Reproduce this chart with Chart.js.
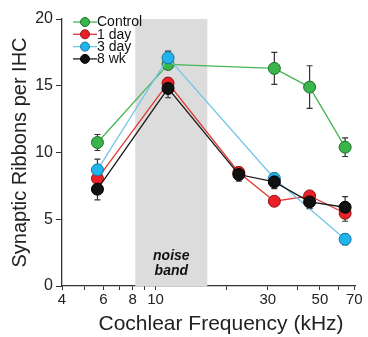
<!DOCTYPE html>
<html>
<head>
<meta charset="utf-8">
<script src="https://cdn.jsdelivr.net/npm/chart.js@4"></script>
<style>
  html, body { margin: 0; padding: 0; background: #fff; }
  #wrap { width: 368px; height: 337px; }
</style>
</head>
<body>
<div id="wrap"><canvas id="chart" width="368" height="337"></canvas></div>
<script>
// frecuencias medidas (kHz)
const frecuencias = [5.66, 11.3, 22.6, 32, 45.2, 64];
const etiquetas = ["Control", "1 day", "3 day", "8 wk"];

// ribbons por IHC (null = sin medida en esa frecuencia)
const control = [10.75, 16.6, null, 16.3, 14.9, 10.4];
const dia1 = [8.05, 15.2, 8.5, 6.35, 6.75, 5.45];
const dia3 = [8.7, 17.1, null, 8.05, null, 3.5];
const sem8 = [7.25, 14.8, 8.35, 7.8, 6.3, 5.9];

// error estandar
const errControl = [0.6, 0.3, null, 1.2, 1.6, 0.7];
const errDia1 = [0.5, 0.4, 0.4, 0.3, 0.3, 0.6];
const errDia3 = [0.8, 0.5, null, 0.4, null, 0.4];
const errSem8 = [0.8, 0.7, 0.5, 0.5, 0.5, 0.8];

const ticksX = [4, 5, 6, 7, 8, 9, 10, 20, 30, 40, 50, 60, 70];
const etiquetasX = [4, 6, 8, 10, 30, 50, 70];
const ticksY = [0, 5, 10, 15, 20];
const banda = [8.2, 16.6];

const FUENTE = "'Liberation Sans', Arial, sans-serif";

function puntos(vals) {
    return frecuencias.map((f, i) => ({ x: f, y: vals[i] }));
}

function serie(label, vals, err, relleno, borde, linea, orden) {
    return {
        label,
        data: puntos(vals),
        errores: err,
        backgroundColor: relleno,
        borderColor: linea,
        pointBorderColor: borde,
        pointBackgroundColor: relleno,
        pointRadius: 6,
        pointBorderWidth: 1,
        borderWidth: 1.3,
        spanGaps: true,
        order: orden,
    };
}

// franja gris del ruido
const bandaRuido = {
    id: "bandaRuido",
    beforeDatasetsDraw(chart) {
        const { ctx, scales } = chart;
        const x1 = scales.x.getPixelForValue(banda[0]);
        const x2 = scales.x.getPixelForValue(banda[1]);
        const y1 = scales.y.getPixelForValue(20);
        const y2 = scales.y.getPixelForValue(0);
        ctx.save();
        ctx.fillStyle = "#dcdcdc";
        ctx.fillRect(x1, y1, x2 - x1, y2 - y1);
        ctx.fillStyle = "#111";
        ctx.font = "italic bold 14px " + FUENTE;
        ctx.textAlign = "center";
        ctx.textBaseline = "middle";
        const xc = (x1 + x2) / 2;
        ctx.fillText("noise", xc, y2 - 30);
        ctx.fillText("band", xc, y2 - 15);
        ctx.restore();
    },
};

// barras de error
const barrasError = {
    id: "barrasError",
    beforeDatasetsDraw(chart) {
        const { ctx, scales } = chart;
        ctx.save();
        ctx.strokeStyle = "#333";
        ctx.lineWidth = 1.2;
        chart.data.datasets.forEach((ds) => {
            ds.data.forEach((p, i) => {
                const e = ds.errores[i];
                if (p.y == null || e == null) return;
                const x = scales.x.getPixelForValue(p.x);
                const yTop = scales.y.getPixelForValue(p.y + e);
                const yBot = scales.y.getPixelForValue(p.y - e);
                ctx.beginPath();
                ctx.moveTo(x, yTop); ctx.lineTo(x, yBot);
                ctx.moveTo(x - 3, yTop); ctx.lineTo(x + 3, yTop);
                ctx.moveTo(x - 3, yBot); ctx.lineTo(x + 3, yBot);
                ctx.stroke();
            });
        });
        ctx.restore();
    },
};

// leyenda dentro del grafico y titulo del eje x
const extras = {
    id: "extras",
    afterDraw(chart) {
        const { ctx } = chart;
        ctx.save();
        chart.data.datasets.forEach((ds, i) => {
            const y = 22 + i * 12.3;
            ctx.strokeStyle = ds.borderColor;
            ctx.lineWidth = 1.3;
            ctx.beginPath();
            ctx.moveTo(73, y); ctx.lineTo(97, y);
            ctx.stroke();
            ctx.fillStyle = ds.pointBackgroundColor;
            ctx.strokeStyle = ds.pointBorderColor;
            ctx.lineWidth = 1;
            ctx.beginPath();
            ctx.arc(85, y, 4.5, 0, Math.PI * 2);
            ctx.fill();
            ctx.stroke();
            ctx.fillStyle = "#111";
            ctx.font = "14px " + FUENTE;
            ctx.textBaseline = "middle";
            ctx.textAlign = "left";
            ctx.fillText(ds.label, 97, y + 0.5);
        });
        ctx.fillStyle = "#222";
        ctx.font = "21px " + FUENTE;
        ctx.textAlign = "center";
        ctx.textBaseline = "middle";
        ctx.fillText("Cochlear Frequency (kHz)", 221, 324);
        ctx.restore();
    },
};

new Chart(document.getElementById("chart"), {
    type: "line",
    data: {
        datasets: [
            serie(etiquetas[0], control, errControl, "#3ab54a", "#1f6e2a", "#45b555", 4),
            serie(etiquetas[1], dia1, errDia1, "#ec2028", "#8f1414", "#e03a36", 3),
            serie(etiquetas[2], dia3, errDia3, "#21b4ec", "#1476a0", "#72c6e6", 2),
            serie(etiquetas[3], sem8, errSem8, "#111111", "#000000", "#1a1a1a", 1),
        ],
    },
    options: {
        responsive: false,
        animation: false,
        layout: { padding: { top: 19, right: 13, left: 0, bottom: 0 } },
        plugins: {
            legend: { display: false },
            tooltip: { enabled: false },
        },
        scales: {
            x: {
                type: "logarithmic",
                min: 4,
                max: 70.5,
                afterBuildTicks: (s) => { s.ticks = ticksX.map((v) => ({ value: v })); },
                afterFit: (s) => { s.height = 51; },
                ticks: {
                    autoSkip: false,
                    maxRotation: 0,
                    color: "#222",
                    font: { size: 15, family: FUENTE },
                    padding: 1,
                    callback: (v) => (etiquetasX.includes(v) ? String(v) : ""),
                },
                grid: { drawOnChartArea: false, tickLength: 4, color: "#333", lineWidth: 1 },
                border: { color: "#333", width: 1.3 },
            },
            y: {
                min: 0,
                max: 20,
                afterBuildTicks: (s) => { s.ticks = ticksY.map((v) => ({ value: v })); },
                afterFit: (s) => { s.width = 62; },
                ticks: {
                    color: "#222",
                    font: { size: 16, family: FUENTE },
                    padding: 3,
                },
                grid: { drawOnChartArea: false, tickLength: 6, color: "#333", lineWidth: 1 },
                border: { color: "#333", width: 1.3 },
                title: {
                    display: true,
                    text: "Synaptic Ribbons per IHC",
                    color: "#222",
                    font: { size: 20, family: FUENTE },
                    padding: { top: 8, bottom: 0 },
                },
            },
        },
    },
    plugins: [bandaRuido, barrasError, extras],
});
</script>
</body>
</html>
